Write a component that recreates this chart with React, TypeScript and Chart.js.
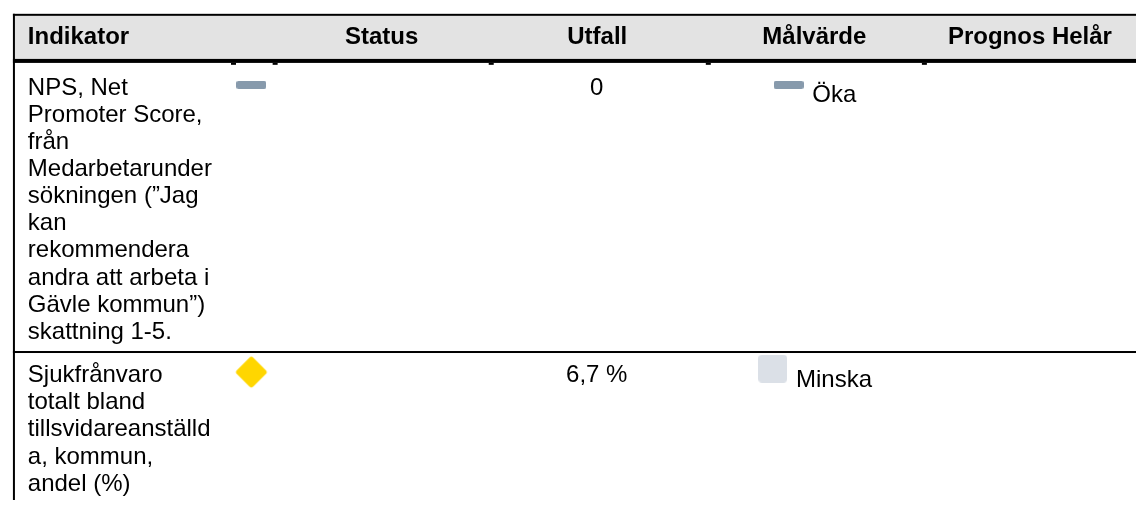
import React, { useEffect, useRef } from 'react';
import { Chart, registerables } from 'chart.js';

Chart.register(...registerables);

// ---------- data ----------
const headers = ['Indikator', 'Status', 'Utfall', 'Målvärde', 'Prognos Helår'];
const indicatorLines = [
  ['NPS, Net', 'Promoter Score,', 'från', 'Medarbetarunder', 'sökningen (”Jag', 'kan', 'rekommendera', 'andra att arbeta i', 'Gävle kommun”)', 'skattning 1-5.'],
  ['Sjukfrånvaro', 'totalt bland', 'tillsvidareanställd', 'a, kommun,', 'andel (%)'],
];
const statusIcons = ['dash', 'diamond'];
const outcomes = ['0', '6,7 %'];
const targetIcons = ['dash', 'square'];
const targetTexts = ['Öka', 'Minska'];
const forecasts = ['', ''];

// ---------- layout ----------
const W = 1141;
const H = 505;
const FONT = '"Liberation Sans", Arial, sans-serif';
const BODY_FONT = `24px ${FONT}`;
const HEAD_FONT = `bold 24px ${FONT}`;
const tableLeft = 8;
const headerTop = 9;
const headerBottom = 55;
const headerTextX = [23, 380, 597.5, 816.5, 1034];
const headerAlign: CanvasTextAlign[] = ['left', 'center', 'center', 'center', 'center'];
const headerBaseline = 40;
const colMarks = [228, 270, 488, 707, 925];
const rowTops = [59, 355];
const rowDividers = [353];
const lineHeight = 27.6;
const textBaselineOffset = [33, 30];
const indicatorX = 23;
const statusX = 248.5;
const statusYOffset = [22.5, 19.5];
const outcomeX = 597;
const targetCenterX = 817;
const targetIconYOffset = [22.5, 16];
const targetTextOffset = [40, 35];
const iconGap = 9;
const forecastX = 1034;

const COLORS = {
  dash: '#879aac',
  diamond: '#ffd600',
  square: '#dbe0e7',
  header: '#e3e3e3',
  border: '#000000',
  text: '#000000',
};

function makeIcon(kind: string): HTMLCanvasElement {
  const c = document.createElement('canvas');
  const g = c.getContext('2d')!;
  if (kind === 'dash') {
    c.width = 30; c.height = 8;
    g.fillStyle = COLORS.dash;
    g.beginPath();
    (g as any).roundRect(0, 0, 30, 8, 2);
    g.fill();
  } else if (kind === 'diamond') {
    c.width = 34; c.height = 34;
    g.fillStyle = COLORS.diamond;
    g.translate(17, 17);
    g.rotate(Math.PI / 4);
    const s = 23.3;
    g.beginPath();
    (g as any).roundRect(-s / 2, -s / 2, s, s, 3);
    g.fill();
  } else {
    c.width = 29; c.height = 28;
    g.fillStyle = COLORS.square;
    g.beginPath();
    (g as any).roundRect(0, 0, 29, 28, 4);
    g.fill();
  }
  return c;
}

function measure(text: string, font: string): number {
  const c = document.createElement('canvas');
  const g = c.getContext('2d')!;
  g.font = font;
  return g.measureText(text).width;
}

const tablePlugin = {
  id: 'tableDraw',
  beforeDatasetsDraw(chart: any) {
    const ctx: CanvasRenderingContext2D = chart.ctx;
    const xs = chart.scales.x;
    const ys = chart.scales.y;
    const px = (v: number) => xs.getPixelForValue(v);
    const py = (v: number) => ys.getPixelForValue(v);
    ctx.save();
    ctx.fillStyle = '#ffffff';
    ctx.fillRect(0, 0, W, H);
    // header background
    ctx.fillStyle = COLORS.header;
    ctx.fillRect(px(tableLeft + 2), py(headerTop + 2), px(W) - px(tableLeft + 2), py(headerBottom) - py(headerTop + 2));
    ctx.fillStyle = COLORS.border;
    // top border
    ctx.fillRect(px(tableLeft), py(headerTop), px(W) - px(tableLeft), 2);
    // header bottom thick border
    ctx.fillRect(px(tableLeft), py(headerBottom), px(W) - px(tableLeft), 4);
    colMarks.forEach((m) => ctx.fillRect(px(m), py(headerBottom + 4), 5, 2));
    // left border
    ctx.fillRect(px(tableLeft), py(headerTop), 2, py(H) - py(headerTop));
    // row dividers
    rowDividers.forEach((d) => ctx.fillRect(px(tableLeft), py(d), px(W) - px(tableLeft), 2));
    ctx.restore();
  },
  afterDatasetsDraw(chart: any) {
    const ctx: CanvasRenderingContext2D = chart.ctx;
    const xs = chart.scales.x;
    const ys = chart.scales.y;
    const px = (v: number) => xs.getPixelForValue(v);
    const py = (v: number) => ys.getPixelForValue(v);
    ctx.save();
    ctx.fillStyle = COLORS.text;
    ctx.textBaseline = 'alphabetic';
    // header
    ctx.font = HEAD_FONT;
    headers.forEach((h, i) => {
      ctx.textAlign = headerAlign[i];
      ctx.fillText(h, px(headerTextX[i]), py(headerBaseline));
    });
    ctx.font = BODY_FONT;
    indicatorLines.forEach((lines, r) => {
      const base = rowTops[r] + textBaselineOffset[r];
      ctx.textAlign = 'left';
      lines.forEach((ln, k) => ctx.fillText(ln, px(indicatorX), py(base + k * lineHeight)));
      ctx.textAlign = 'center';
      ctx.fillText(outcomes[r], px(outcomeX), py(base));
      if (forecasts[r]) ctx.fillText(forecasts[r], px(forecastX), py(base));
      // target text
      const icon = targetCanvases[r];
      const tw = ctx.measureText(targetTexts[r]).width;
      const groupW = icon.width + iconGap + tw;
      const start = targetCenterX - groupW / 2;
      ctx.textAlign = 'left';
      ctx.fillText(targetTexts[r], px(start + icon.width + iconGap), py(rowTops[r] + targetTextOffset[r]));
    });
    ctx.restore();
  },
};

const statusCanvases = statusIcons.map(makeIcon);
const targetCanvases = targetIcons.map(makeIcon);

export default function App() {
  const ref = useRef<HTMLCanvasElement>(null);
  useEffect(() => {
    if (!ref.current) return;
    const statusData = statusIcons.map((_, i) => ({ x: statusX, y: rowTops[i] + statusYOffset[i] }));
    const targetData = targetIcons.map((_, i) => {
      const icon = targetCanvases[i];
      const tw = measure(targetTexts[i], BODY_FONT);
      const groupW = icon.width + iconGap + tw;
      const start = targetCenterX - groupW / 2;
      return { x: start + icon.width / 2, y: rowTops[i] + targetIconYOffset[i] };
    });
    const chart = new Chart(ref.current, {
      type: 'scatter',
      data: {
        datasets: [
          { label: 'Status', data: statusData, pointStyle: statusCanvases as any, pointRadius: 3, clip: false as any },
          { label: 'Målvärde', data: targetData, pointStyle: targetCanvases as any, pointRadius: 3, clip: false as any },
        ],
      },
      options: {
        animation: false,
        responsive: false,
        devicePixelRatio: 1,
        events: [],
        layout: { padding: 0 },
        plugins: { legend: { display: false }, tooltip: { enabled: false }, title: { display: false } },
        scales: {
          x: { type: 'linear', min: 0, max: W, display: false },
          y: { type: 'linear', min: 0, max: H, reverse: true, display: false },
        },
      },
      plugins: [tablePlugin],
    });
    return () => chart.destroy();
  }, []);
  return (
    <div style={{ position: 'fixed', left: 0, top: 0, width: W, height: H, background: '#fff' }}>
      <canvas ref={ref} width={W} height={H} style={{ display: 'block', width: W, height: H }} />
    </div>
  );
}
